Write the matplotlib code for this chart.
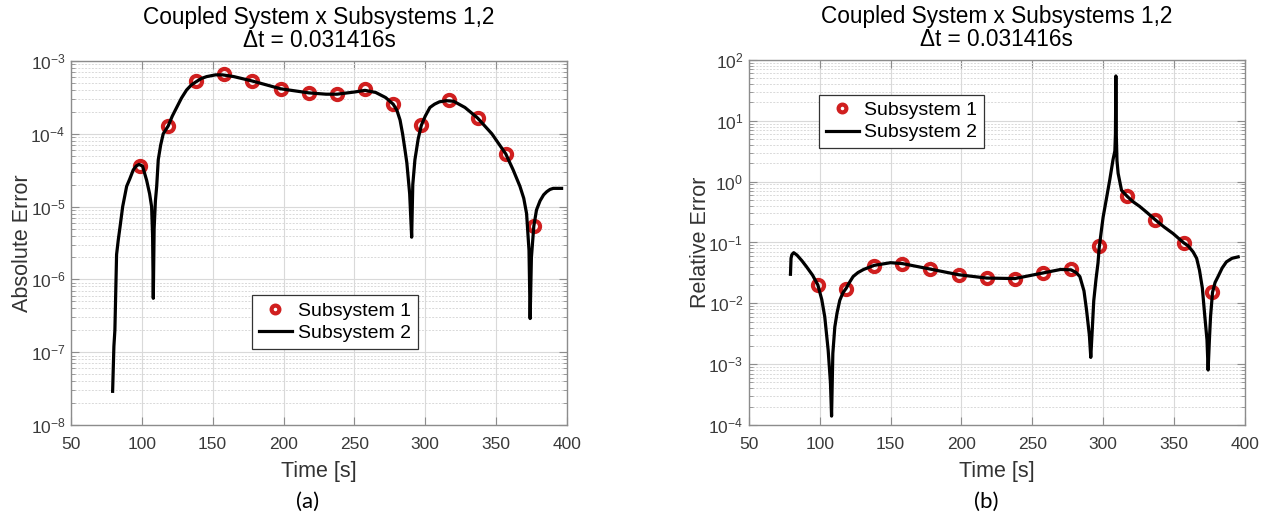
import matplotlib
matplotlib.use("Agg")
import matplotlib.pyplot as plt
from matplotlib.ticker import LogLocator, NullFormatter, MultipleLocator

plt.rcParams['font.family'] = ['Liberation Sans', 'DejaVu Sans']
plt.rcParams['mathtext.fontset'] = 'custom'
plt.rcParams['mathtext.rm'] = 'Liberation Sans'

# marker sample times (Subsystem 1), both panels
t_mark = [98.7, 118.6, 138.4, 158.3, 178.1, 198.0, 217.8, 237.7,
          257.5, 277.4, 297.2, 317.1, 336.9, 356.8, 376.6]

# (a) absolute error
abs_mark = [3.65e-5, 1.28e-4, 5.26e-4, 6.6e-4, 5.37e-4, 4.17e-4, 3.67e-4, 3.56e-4,
            4.08e-4, 2.57e-4, 1.31e-4, 2.88e-4, 1.65e-4, 5.28e-5, 5.4e-6]
t_abs = [79.4, 80.3, 81.0, 82.2, 83.4, 84.6, 86.5, 89.3, 91.5, 94.0, 96.0, 98.0, 100.5,
         103.4, 105.5, 106.9, 107.6, 108.1, 108.7, 109.6, 110.5, 111.6, 113.3, 115.1,
         118.6, 121.5, 124.6, 128.0, 131.6, 135.0, 138.4, 142.0, 145.7, 152.0, 157.0,
         165.0, 178.1, 198.0, 217.8, 230.0, 237.7, 250.0, 257.5, 265.0, 272.0, 277.4,
         280.0, 282.2, 284.0, 285.7, 287.0, 289.0, 290.4, 291.2, 292.7, 295.0, 297.2,
         300.0, 303.3, 306.5, 310.0, 315.0, 320.0, 328.0, 336.9, 347.0, 356.8, 362.0,
         366.8, 369.5, 371.5, 373.2, 374.0, 374.9, 376.6, 378.5, 381.0, 383.5, 385.7,
         388.0, 390.3, 396.2]
v_abs = [2.9e-8, 1.2e-7, 2.0e-7, 2.2e-6, 3.5e-6, 5.2e-6, 1.0e-5, 1.9e-5, 2.4e-5, 3.2e-5,
         3.6e-5, 3.8e-5, 3.6e-5, 2.3e-5, 1.5e-5, 1.0e-5, 4.0e-6, 5.5e-7, 5.0e-6, 1.2e-5,
         1.9e-5, 4.4e-5, 7.0e-5, 1.0e-4, 1.28e-4, 1.75e-4, 2.3e-4, 3.1e-4, 4.0e-4,
         4.7e-4, 5.2e-4, 5.75e-4, 6.1e-4, 6.45e-4, 6.45e-4, 6.1e-4, 5.3e-4, 4.15e-4,
         3.65e-4, 3.5e-4, 3.5e-4, 3.75e-4, 3.95e-4, 3.7e-4, 3.15e-4, 2.55e-4, 2.1e-4,
         1.55e-4, 1.0e-4, 6.0e-5, 4.0e-5, 1.5e-5, 3.8e-6, 2.0e-5, 4.4e-5, 8.5e-5,
         1.3e-4, 1.75e-4, 2.3e-4, 2.55e-4, 2.75e-4, 2.85e-4, 2.8e-4, 2.3e-4, 1.65e-4,
         1.0e-4, 5.3e-5, 3.2e-5, 1.9e-5, 1.3e-5, 8.0e-6, 2.5e-6, 2.9e-7, 2.0e-6, 5.4e-6,
         9.0e-6, 1.2e-5, 1.45e-5, 1.6e-5, 1.72e-5, 1.78e-5, 1.78e-5]

# (b) relative error
rel_mark = [0.0201, 0.0171, 0.041, 0.045, 0.036, 0.029, 0.0257, 0.0251,
            0.0318, 0.036, 0.087, 0.586, 0.233, 0.099, 0.0151]
t_rel = [79.4, 79.8, 80.4, 81.7, 84.0, 87.5, 90.7, 95.0, 98.7, 101.5, 103.6, 106.0,
         107.6, 108.4, 109.3, 110.7, 112.3, 114.2, 116.5, 118.6, 121.0, 123.6, 127.0,
         131.0, 138.4, 150.0, 158.3, 178.1, 198.0, 217.8, 237.7, 257.5, 270.0, 277.4,
         281.0, 283.6, 286.5, 288.3, 290.3, 291.3, 292.3, 293.4, 295.0, 296.4, 297.2,
         298.5, 300.0, 302.5, 304.7, 307.0, 308.3, 308.7, 309.0, 309.3, 309.8, 310.6,
         313.0, 317.1, 321.0, 325.9, 331.0, 336.9, 343.0, 349.4, 356.8, 360.0, 363.5,
         366.0, 368.0, 370.0, 371.8, 373.3, 374.1, 375.0, 375.8, 377.2, 379.0, 381.1,
         384.0, 387.0, 391.0, 395.3]
v_rel = [0.030, 0.055, 0.063, 0.068, 0.062, 0.050, 0.040, 0.029, 0.0201, 0.0115, 6.0e-3,
         1.7e-3, 5.0e-4, 1.4e-4, 1.5e-3, 4.1e-3, 7.0e-3, 0.0112, 0.015, 0.0175, 0.022,
         0.0275, 0.032, 0.036, 0.042, 0.0465, 0.045, 0.0365, 0.0295, 0.026, 0.0255,
         0.0315, 0.036, 0.0355, 0.032, 0.0275, 0.016, 7.8e-3, 3.0e-3, 1.29e-3, 3.5e-3,
         0.011, 0.025, 0.046, 0.08, 0.14, 0.26, 0.55, 1.07, 2.3, 3.2, 6.0, 54.6, 6.0,
         2.2, 1.37, 0.72, 0.57, 0.47, 0.39, 0.31, 0.235, 0.18, 0.14, 0.099, 0.088, 0.07,
         0.055, 0.035, 0.018, 6.0e-3, 2.5e-3, 8.0e-4, 2.5e-3, 6.0e-3, 0.0151, 0.022,
         0.0275, 0.038, 0.048, 0.055, 0.058]

red = '#d01f1f'
grid_col = '#d9d9d9'
spine_col = '#8c8c8c'
tick_col = '#3a3a3a'

fig = plt.figure(figsize=(12.67, 5.17), dpi=100)
ax1 = fig.add_axes([0.056, 0.178, 0.3915, 0.704])
ax2 = fig.add_axes([0.591, 0.178, 0.3915, 0.706])


def style(ax, ylo, yhi, ylabel, tag, tag_x):
    ax.set_yscale('log')
    ax.set_xlim(50, 400)
    ax.set_ylim(ylo, yhi)
    ax.xaxis.set_major_locator(MultipleLocator(50))
    ax.yaxis.set_major_locator(LogLocator(base=10, numticks=20))
    ax.yaxis.set_minor_locator(LogLocator(base=10, subs=range(2, 10), numticks=20))
    ax.yaxis.set_minor_formatter(NullFormatter())
    ax.grid(True, which='major', color=grid_col, lw=0.8)
    ax.grid(True, which='minor', axis='y', color=grid_col, lw=0.7, ls=(0, (2, 1.5)))
    ax.set_axisbelow(True)
    for s in ax.spines.values():
        s.set_color(spine_col)
        s.set_linewidth(1.0)
    ax.tick_params(which='both', direction='in', top=True, right=True,
                   colors=spine_col, labelcolor=tick_col, labelsize=12.5)
    ax.tick_params(which='major', length=6)
    ax.tick_params(which='minor', length=3)
    ax.tick_params(axis='x', pad=9)
    ax.tick_params(axis='y', pad=4)
    ax.set_xlabel('Time [s]', fontsize=15.5, color='#333333', labelpad=6)
    ax.set_ylabel(ylabel, fontsize=15.5, color='#333333', labelpad=-2)
    ax.set_title('Coupled System x Subsystems 1,2\n\u0394t = 0.031416s',
                 fontsize=16.3, pad=10, linespacing=1.0)
    fig.text(tag_x, 0.03, tag, ha='center', va='center',
             fontsize=16, family=['Lato', 'DejaVu Sans'])


def add_legend(ax, anchor):
    leg = ax.legend(loc='lower left', bbox_to_anchor=anchor, fontsize=14,
                    fancybox=False, framealpha=1, edgecolor='#333333', handlelength=1.7,
                    handletextpad=0.3, borderpad=0.35, labelspacing=0.25,
                    markerscale=0.7, borderaxespad=0)
    leg.get_frame().set_linewidth(0.9)


ax1.plot(t_mark, abs_mark, 'o', ms=8, mfc='none', mec=red, mew=3.0, label='Subsystem 1')
ax1.plot(t_abs, v_abs, '-', color='black', lw=2.3, label='Subsystem 2')
style(ax1, 1e-8, 1e-3, 'Absolute Error', '(a)', 308 / 1267)
add_legend(ax1, (0.365, 0.209))

ax2.plot(t_mark, rel_mark, 'o', ms=8, mfc='none', mec=red, mew=3.0, label='Subsystem 1')
ax2.plot(t_rel, v_rel, '-', color='black', lw=2.3, label='Subsystem 2')
style(ax2, 1e-4, 1e2, 'Relative Error', '(b)', 986 / 1267)
add_legend(ax2, (0.141, 0.758))

fig.savefig('out.png', dpi=100, facecolor='white')
